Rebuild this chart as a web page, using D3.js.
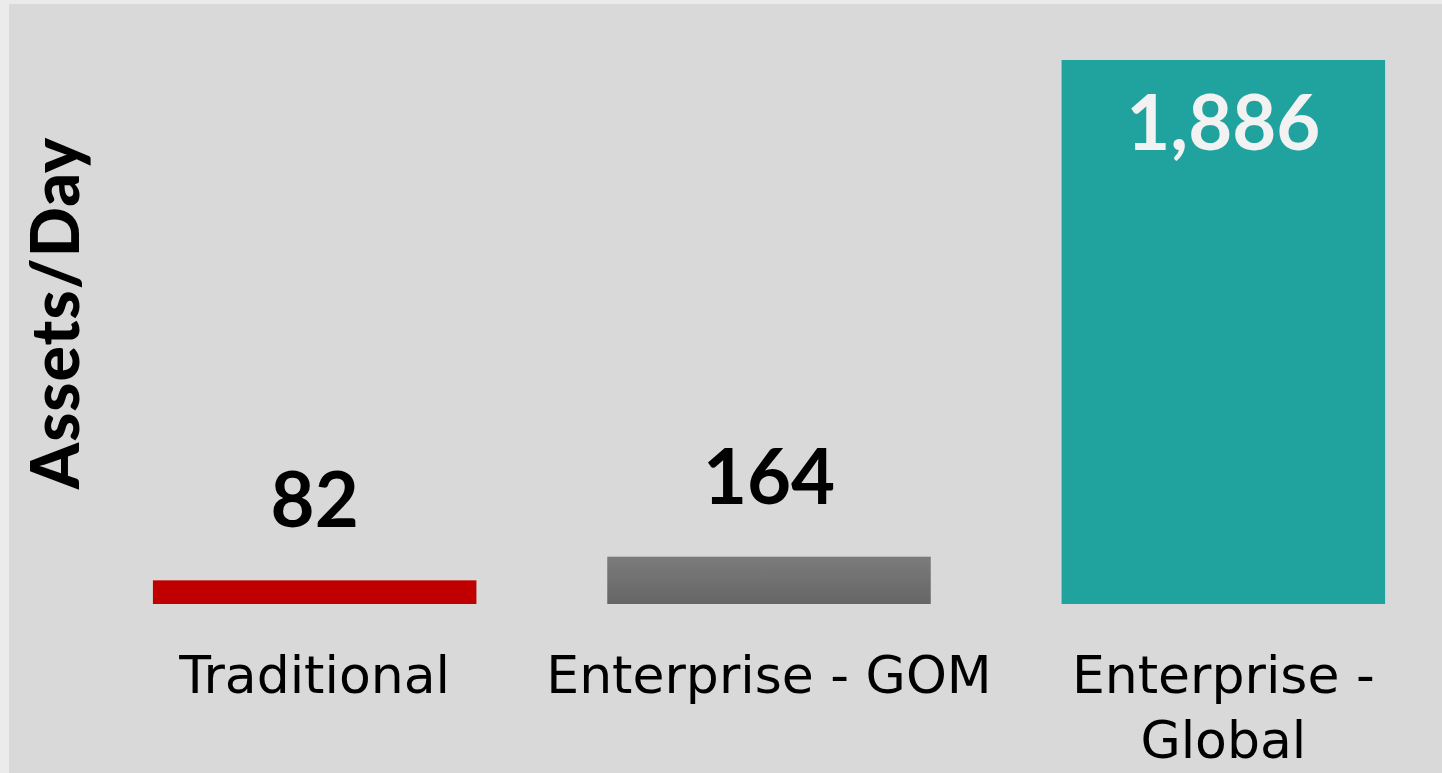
<!DOCTYPE html>
<html>
<head>
<meta charset="utf-8">
<script src="https://cdn.jsdelivr.net/npm/d3@7"></script>
<style>
  html, body { margin: 0; padding: 0; background: #ebebeb; }
  svg { display: block; }
</style>
</head>
<body>
<svg id="chart" width="1442" height="773"></svg>
<script>
// Throughput by operating model
const categories = ["Traditional", "Enterprise - GOM", "Enterprise - Global"];
const categoryLines = [["Traditional"], ["Enterprise - GOM"], ["Enterprise -", "Global"]];
const assetsPerDay = [82, 164, 1886];
const valueLabels = ["82", "164", "1,886"];
const yTitle = "Assets/Day";

const W = 1442, H = 773;
const svg = d3.select("#chart");

// panel
svg.append("rect")
  .attr("x", 9).attr("y", 4)
  .attr("width", W - 9).attr("height", H - 4)
  .attr("fill", "#d9d9d9");

const defs = svg.append("defs");
const grad = defs.append("linearGradient")
  .attr("id", "grayFill").attr("x1", 0).attr("y1", 0).attr("x2", 0).attr("y2", 1);
grad.append("stop").attr("offset", "0%").attr("stop-color", "#7b7b7b");
grad.append("stop").attr("offset", "100%").attr("stop-color", "#666666");

const barFills = ["#c00000", "url(#grayFill)", "#20a39e"];

const x = d3.scaleBand()
  .domain(categories)
  .range([87.5, 1450.5])
  .paddingInner(0.288)
  .paddingOuter(0.144);

const baseY = 604, topY = 60;
const y = d3.scaleLinear()
  .domain([0, d3.max(assetsPerDay)])
  .range([baseY, topY]);

const data = categories.map((c, i) => ({
  cat: c, value: assetsPerDay[i], label: valueLabels[i],
  lines: categoryLines[i], fill: barFills[i]
}));

// bars
svg.append("g").selectAll("rect")
  .data(data).join("rect")
  .attr("x", d => x(d.cat))
  .attr("y", d => y(d.value))
  .attr("width", x.bandwidth())
  .attr("height", d => y(0) - y(d.value))
  .attr("fill", d => d.fill);

// value labels: outside end for short bars, inside end for the tall one
const numFont = "'Lato', 'DejaVu Sans', sans-serif";
const vmax = d3.max(assetsPerDay);
svg.append("g").selectAll("text")
  .data(data).join("text")
  .attr("x", d => x(d.cat) + x.bandwidth() / 2)
  .attr("y", d => d.value === vmax ? y(d.value) + 90 : y(d.value) - 53)
  .attr("text-anchor", "middle")
  .attr("font-family", numFont)
  .attr("font-weight", 700)
  .attr("font-size", 76)
  .attr("fill", d => d.value === vmax ? "#f2f2f2" : "#000000")
  .text(d => d.label);

// category labels
const catFont = "'DejaVu Sans', sans-serif";
const catG = svg.append("g").selectAll("text")
  .data(data).join("text")
  .attr("x", d => x(d.cat) + x.bandwidth() / 2)
  .attr("y", 693)
  .attr("text-anchor", "middle")
  .attr("font-family", catFont)
  .attr("font-size", 52)
  .attr("fill", "#000000");
catG.selectAll("tspan")
  .data(d => d.lines.map(l => ({ l, cx: x(d.cat) + x.bandwidth() / 2 })))
  .join("tspan")
  .attr("x", t => t.cx)
  .attr("dy", (t, i) => i === 0 ? 0 : 65)
  .text(t => t.l);

// axis title
svg.append("text")
  .attr("transform", "translate(79,313) rotate(-90)")
  .attr("text-anchor", "middle")
  .attr("font-family", numFont)
  .attr("font-weight", 900)
  .attr("font-size", 66)
  .attr("letter-spacing", 1)
  .attr("fill", "#000000")
  .text(yTitle);
</script>
</body>
</html>
